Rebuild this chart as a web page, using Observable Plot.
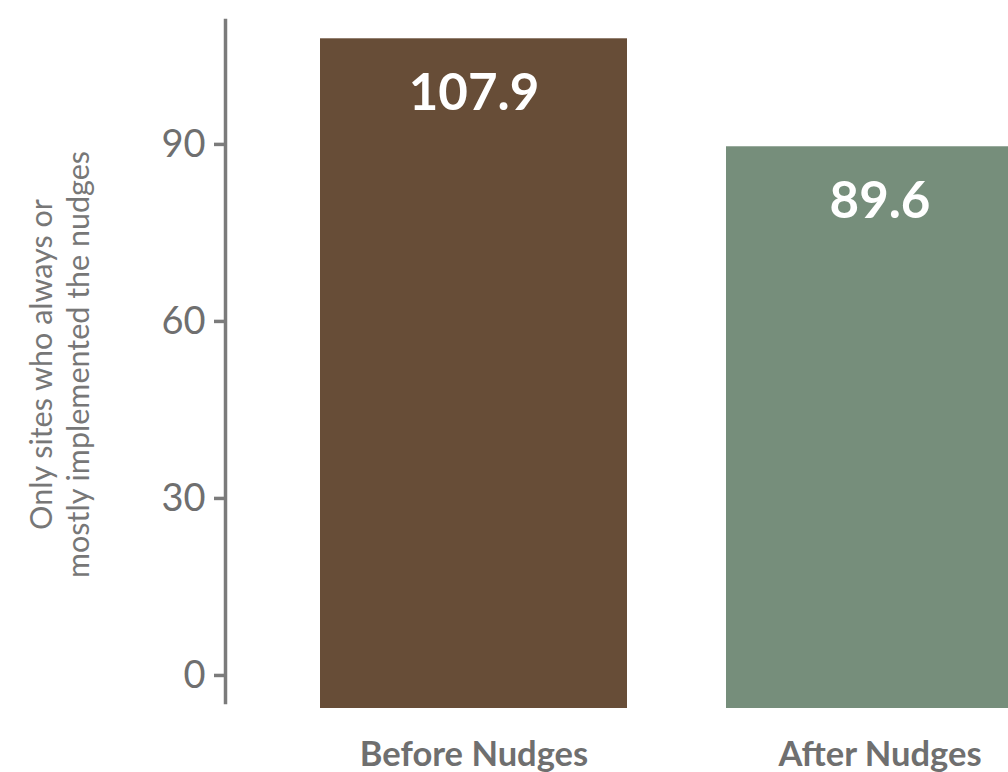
<!DOCTYPE html>
<html>
<head>
<meta charset="utf-8">
<script src="https://cdn.jsdelivr.net/npm/d3@7"></script>
<script src="https://cdn.jsdelivr.net/npm/@observablehq/plot@0.6"></script>
<style>
  html, body { margin: 0; padding: 0; background: #fff; overflow: hidden; }
  #chart svg { display: block; }
</style>
</head>
<body>
<div id="chart"></div>
<script>
// Mean values before and after the nudges were introduced
const phases = ["Before Nudges", "After Nudges"];
const values = [107.9, 89.6];
const yTicks = [0, 30, 60, 90];
const yTitle = "Only sites who always or\nmostly implemented the nudges";

const rows = phases.map((phase, i) => ({phase, value: values[i]}));

const barColors = ["#674d37", "#768e7b"];
const axisGray = "#7b7b7b";
const textGray = "#6f6f6f";
const yFloor = -5.6;   // bars start slightly below zero, like the padded panel
const yCeil = 111;

const chart = Plot.plot({
  width: 1008,
  height: 800,
  marginLeft: 225,
  marginRight: 0,
  marginTop: 20,
  marginBottom: 92,
  style: {fontFamily: "Lato, 'Open Sans', sans-serif", background: "#fff"},
  x: {domain: phases, range: [319, 1034], paddingInner: 0.2432, paddingOuter: 0, align: 0.5},
  y: {domain: [yFloor, yCeil]},
  color: {domain: phases, range: barColors},
  marks: [
    Plot.barY(rows, {x: "phase", y1: yFloor, y2: "value", fill: "phase"}),
    Plot.frame({anchor: "left", stroke: axisGray, strokeWidth: 3.5, insetBottom: 6}),
    Plot.axisY({
      ticks: yTicks,
      tickSize: 11,
      tickPadding: 9,
      strokeWidth: 3.5,
      stroke: axisGray,
      fill: textGray,
      fontSize: 38,
      label: null
    }),
    Plot.axisX({
      tickSize: 0,
      tickPadding: 33,
      fontSize: 34.5,
      fontWeight: "bold",
      fill: textGray,
      label: null
    }),
    Plot.text(rows, {
      x: "phase",
      y: "value",
      text: d => d.value.toFixed(1),
      dy: 55,
      fill: "white",
      fontSize: 51,
      fontWeight: "bold"
    }),
    Plot.text([yTitle], {
      frameAnchor: "left",
      rotate: -90,
      dx: -167,
      fontSize: 30.5,
      lineHeight: 1.2,
      fill: "#777777",
      textAnchor: "middle",
      lineAnchor: "middle"
    })
  ]
});

document.getElementById("chart").append(chart);
</script>
</body>
</html>
